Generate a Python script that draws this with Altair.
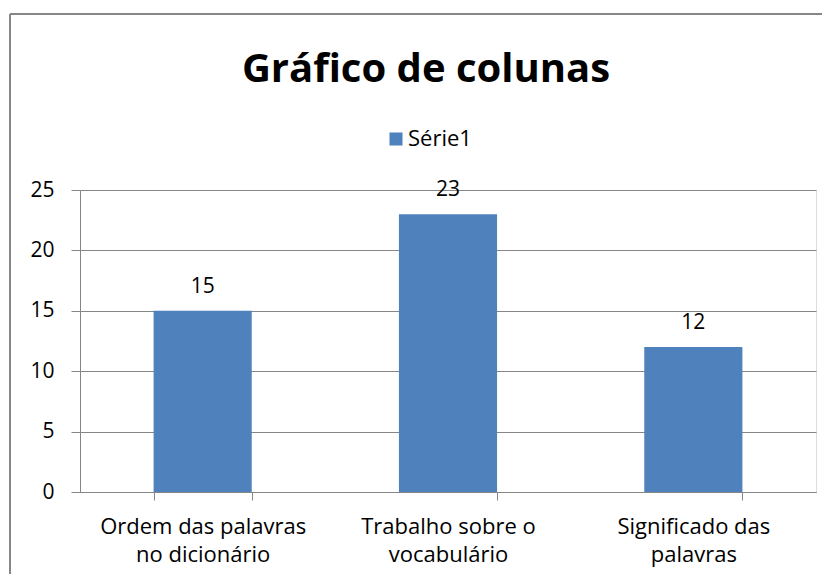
import altair as alt
import pandas as pd

categories = ["Ordem das palavras\nno dicionário", "Trabalho sobre o\nvocabulário", "Significado das\npalavras"]
values = [15, 23, 12]
series = ["Série1", "Série1", "Série1"]

df = pd.DataFrame({"categoria": categories, "valor": values, "serie": series})

FONT = "Open Sans"
GRAY = "#868686"

base = alt.Chart(df)

y_scale = alt.Scale(domain=[0, 25], nice=False)

one = pd.DataFrame({"a": [1]})
border_top = alt.Chart(one).mark_rule(color=GRAY, strokeWidth=2, clip=False).encode(
    x=alt.value(-70), x2=alt.value(742), y=alt.value(-176)
)
border_left = alt.Chart(one).mark_rule(color=GRAY, strokeWidth=2, clip=False).encode(
    x=alt.value(-70), y=alt.value(-176), y2=alt.value(390)
)

x_enc = alt.X(
    "categoria:N", sort=categories, title=None,
    scale=alt.Scale(paddingInner=0.6, paddingOuter=0.3),
    axis=alt.Axis(
        labelExpr="split(datum.label, '\\n')", labelAngle=0,
        labelFontSize=22, labelFont=FONT, labelColor="#000000",
        labelLineHeight=28, labelPadding=16, tickBand="extent",
        tickSize=8, tickColor=GRAY, domainColor=GRAY, grid=False,
        labelBaseline="top", labelLimit=400,
    ),
)

bars = base.mark_bar().encode(
    x=x_enc,
    y=alt.Y(
        "valor:Q", title=None, scale=y_scale,
        axis=alt.Axis(
            values=[0, 5, 10, 15, 20, 25], labelFontSize=21, labelFont=FONT,
            labelColor="#000000", labelPadding=17, tickSize=9, tickColor=GRAY,
            domainColor=GRAY, gridColor=GRAY, gridWidth=1,
        ),
    ),
    color=alt.Color(
        "serie:N", title=None,
        scale=alt.Scale(range=["#4F81BD"]),
        legend=alt.Legend(
            orient="none", legendX=305, legendY=-62, symbolType="square",
            symbolSize=170, labelFontSize=22, labelFont=FONT, labelColor="#000000",
            symbolStrokeWidth=0, labelOffset=1,
        ),
    ),
)

labels = base.mark_text(dy=-14, baseline="bottom", fontSize=21, font=FONT, color="#000000").encode(
    x=alt.X("categoria:N", sort=categories),
    y=alt.Y("valor:Q", scale=y_scale),
    text="valor:Q",
)

chart = alt.layer(border_top, border_left, bars, labels).properties(
    width=736,
    height=302,
    padding={"left": 72, "top": 182, "right": 7, "bottom": 82},
    autosize=alt.AutoSizeParams(type="none"),
    title=alt.TitleParams(
        "Gráfico de colunas", font=FONT, fontSize=40, fontWeight="bold",
        color="#000000", anchor="middle", offset=-77, dx=-22,
    ),
).configure_view(stroke=None).configure(background="white")

chart.save("out.html", embed_options={"renderer": "svg", "actions": False})
